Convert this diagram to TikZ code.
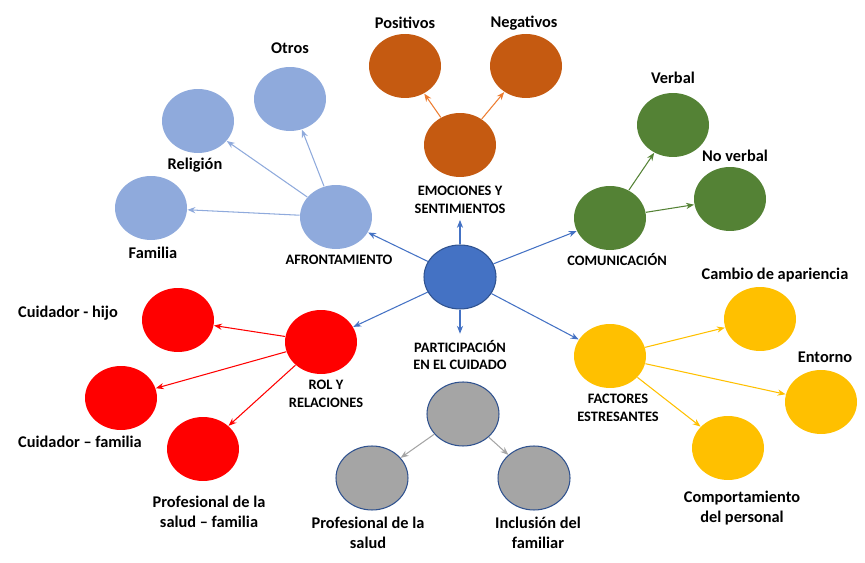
\documentclass[tikz,border=0pt]{standalone}
\usepackage{fontspec}
\setmainfont{Carlito}
\usetikzlibrary{shapes.geometric, arrows.meta}
\definecolor{azul}{HTML}{4472C4}
\definecolor{azulborde}{HTML}{2F528F}
\definecolor{celeste}{HTML}{8FAADC}
\definecolor{naranja}{HTML}{C55A11}
\definecolor{naranjaf}{HTML}{ED7D31}
\definecolor{verde}{HTML}{548235}
\definecolor{rojo}{HTML}{FF0000}
\definecolor{gris}{HTML}{A5A5A5}
\definecolor{amarillo}{HTML}{FFC000}

\begin{document}
\begin{tikzpicture}[x=0.02cm, y=-0.02cm, line width=0.6pt,
    bola/.style={ellipse, minimum width=1.44cm, minimum height=1.28cm, inner sep=0pt},
    txt/.style={font=\fontsize{9.3}{11.4}\selectfont\bfseries, align=center},
    mayus/.style={font=\fontsize{8.2}{10}\selectfont\bfseries, align=center},
    flecha/.style={-{Stealth[length=4.5pt,width=3.5pt]}}]
    \useasboundingbox (0,0) rectangle (865,563);

    % centro
    \node[bola, fill=azul, draw=azulborde] (c) at (460,277) {};

    % afrontamiento
    \node[bola, fill=celeste] (afr) at (336,217) {};
    \node[bola, fill=celeste] (fam) at (151,208) {};
    \node[bola, fill=celeste] (rel) at (198,121) {};
    \node[bola, fill=celeste] (otr) at (290,99) {};
    \node[mayus] (lafr) at (339,260) {AFRONTAMIENTO};
    \node[txt] (lfam) at (153,253) {Familia};
    \node[txt] (lrel) at (195,165) {Religión};
    \node[txt] (lotr) at (290,48) {Otros};

    % emociones
    \node[bola, fill=naranja] (emo) at (460,145) {};
    \node[bola, fill=naranja] (pos) at (405,66) {};
    \node[bola, fill=naranja] (neg) at (526,66) {};
    \node[mayus] (lemo) at (460,200) {EMOCIONES Y\\SENTIMIENTOS};
    \node[txt] (lpos) at (405,23) {Positivos};
    \node[txt] (lneg) at (524,23) {Negativos};

    % comunicacion
    \node[bola, fill=verde] (com) at (610,218) {};
    \node[bola, fill=verde] (ver) at (673,125) {};
    \node[bola, fill=verde] (nov) at (730,199) {};
    \node[mayus] (lcom) at (617,260) {COMUNICACIÓN};
    \node[txt] (lver) at (673,78) {Verbal};
    \node[txt] (lnov) at (735,156) {No verbal};

    % rol y relaciones
    \node[bola, fill=rojo] (rol) at (321,342) {};
    \node[bola, fill=rojo] (hij) at (178,320) {};
    \node[bola, fill=rojo] (cfa) at (121,398) {};
    \node[bola, fill=rojo] (psf) at (203,449) {};
    \node[mayus] (lrol) at (326,394) {ROL Y\\RELACIONES};
    \node[txt] (lhij) at (68,313) {Cuidador - hijo};
    \node[txt] (lcfa) at (80,442) {Cuidador – familia};
    \node[txt] (lpsf) at (209,512) {Profesional de la\\salud – familia};

    % participacion
    \node[bola, fill=gris, draw=azulborde] (par) at (463,414) {};
    \node[bola, fill=gris, draw=azulborde] (pro) at (372,478) {};
    \node[bola, fill=gris, draw=azulborde] (inc) at (534,478) {};
    \node[mayus] (lpar) at (460,355) {PARTICIPACIÓN\\EN EL CUIDADO};
    \node[txt] (lpro) at (368,533) {Profesional de la\\salud};
    \node[txt] (linc) at (538,533) {Inclusión del\\familiar};

    % factores estresantes
    \node[bola, fill=amarillo] (fac) at (610,356) {};
    \node[bola, fill=amarillo] (cam) at (760,319) {};
    \node[bola, fill=amarillo] (ent) at (821,402) {};
    \node[bola, fill=amarillo] (cpt) at (728,448) {};
    \node[mayus] (lfac) at (618,408) {FACTORES\\ESTRESANTES};
    \node[txt] (lcam) at (775,275) {Cambio de apariencia};
    \node[txt] (lent) at (825,357) {Entorno};
    \node[txt] (lcpt) at (742,508) {Comportamiento\\del personal};

    \draw[flecha, azul] (c) edge (afr)
                        (c) edge (lemo)
                        (c) edge (com)
                        (c) edge (rol)
                        (c) edge (lpar)
                        (c) edge (fac);
    \draw[flecha, celeste] (afr) edge (fam)
                           (afr) edge (rel)
                           (afr) edge (otr);
    \draw[flecha, naranjaf] (emo) edge (pos)
                            (emo) edge (neg);
    \draw[flecha, verde] (com) edge (ver)
                         (com) edge (nov);
    \draw[flecha, rojo] (rol) edge (hij)
                        (rol) edge (cfa)
                        (rol) edge (psf);
    \draw[flecha, gris] (par) edge (pro)
                        (par) edge (inc);
    \draw[flecha, amarillo] (fac) edge (cam)
                            (fac) edge (ent)
                            (fac) edge (cpt);
  \end{tikzpicture}
\end{document}
